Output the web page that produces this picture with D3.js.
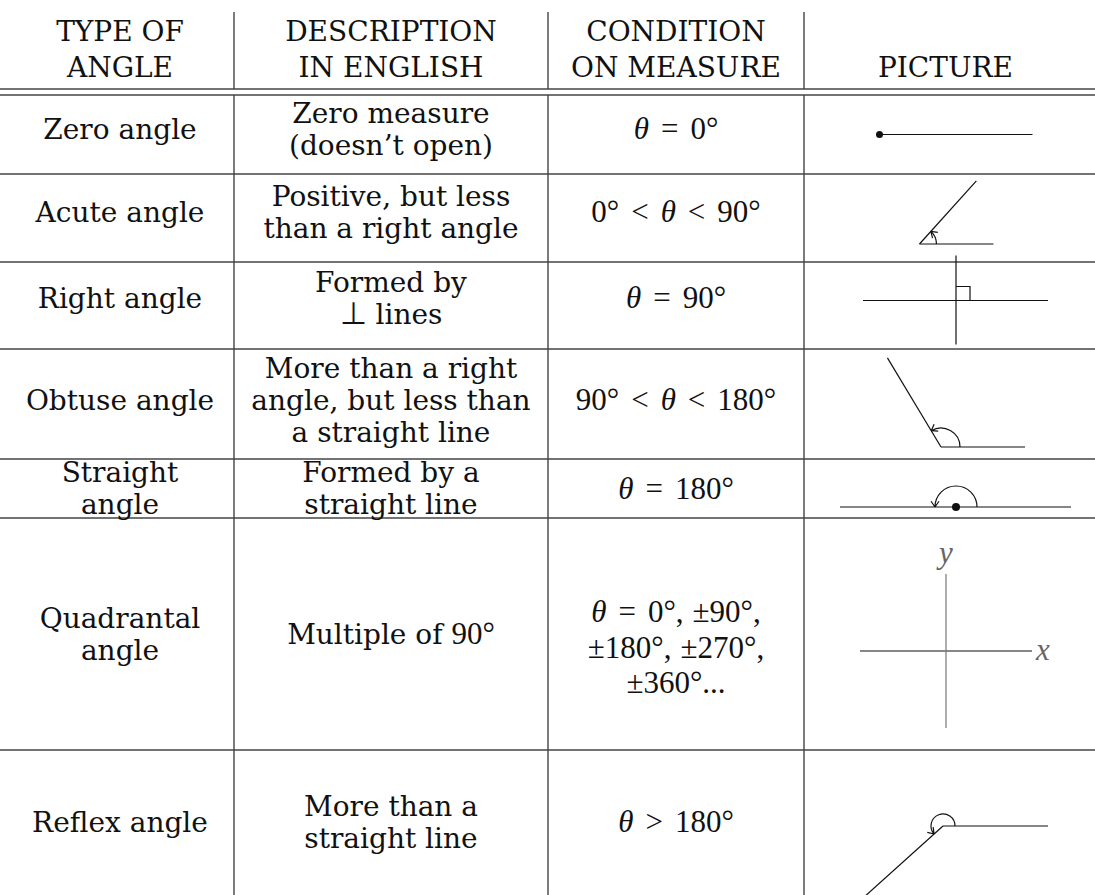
<!DOCTYPE html>
<html>
<head>
<meta charset="utf-8">
<title>Types of Angles</title>
<style>
  body { margin: 0; background: #fff; }
  svg { display: block; }
  text { fill: #111; white-space: pre; }
  .txt { font-family: "DejaVu Serif", serif; font-size: 28px; }
  .math { font-family: "Liberation Serif", serif; font-size: 31px; }
  .rule { stroke: #444; stroke-width: 1.4; }
  .fig { stroke: #111; stroke-width: 1.2; fill: none; }
</style>
</head>
<body>
<div id="viz"></div>
<script src="https://cdn.jsdelivr.net/npm/d3@7/dist/d3.min.js"></script>
<script>
// table content
const headers = [["TYPE OF", "ANGLE"], ["DESCRIPTION", "IN ENGLISH"], ["CONDITION", "ON MEASURE"], ["PICTURE"]];
const types = [["Zero angle"], ["Acute angle"], ["Right angle"], ["Obtuse angle"], ["Straight", "angle"], ["Quadrantal", "angle"], ["Reflex angle"]];
const descriptions = [
  ["Zero measure", "(doesn\u2019t open)"],
  ["Positive, but less", "than a right angle"],
  ["Formed by", "$\u22a5$ lines"],
  ["More than a right", "angle, but less than", "a straight line"],
  ["Formed by a", "straight line"],
  ["Multiple of $90\u00b0$"],
  ["More than a", "straight line"]
];
const conditions = [
  ["\u03b8 = 0\u00b0"],
  ["0\u00b0 < \u03b8 < 90\u00b0"],
  ["\u03b8 = 90\u00b0"],
  ["90\u00b0 < \u03b8 < 180\u00b0"],
  ["\u03b8 = 180\u00b0"],
  ["\u03b8 = 0\u00b0, \u00b190\u00b0,", "\u00b1180\u00b0, \u00b1270\u00b0,", "\u00b1360\u00b0..."],
  ["\u03b8 > 180\u00b0"]
];
const pictureKinds = ["zero", "acute", "right", "obtuse", "straight", "quadrantal", "reflex"];
const pictureAngles = [0, 48, 90, 121, 180, 90, 222];
const axisLabels = ["x", "y"];

// layout
const width = 1095, height = 895;
const colEdges = [0, 234, 548, 804, 1095];
const colNudge = [3, 0, 0, -4];
const headerTop = 12, ruleA = 89, ruleB = 95;
const rowHeights = [79, 88, 87, 110, 59, 232, 145];
const lineGap = 32, headLineGap = 36.5, mathLineGap = 35.5;
const relGap = 12, punctGap = 9;
const textShift = [-5, -6, -7, -3.5, -0.5, 0, 0];
const condShift = [-6, -7, -8, -4.5, 0, 13, -1];
const picLayout = [
  {dx: -70, dy: 0, base: 153, dot: 3.5},
  {dx: -30, dy: 26, base: 74, ray: 85, r: 17},
  {dx: 6.5, dy: -5, left: 93, base: 92, up: 45, down: 44, sq: 14},
  {dx: -8.5, dy: 43, base: 84, ray: 104, r: 19},
  {dx: 6.5, dy: 18.5, left: 116, base: 115, r: 21, dot: 4},
  {dx: -3.5, dy: 17, left: 86, base: 86, up: 77, down: 77},
  {dx: -6.5, dy: 3.5, base: 105, ray: 130, r: 12}
];

const rowTops = [ruleB].concat(Array.from(d3.cumsum(rowHeights), d => ruleB + d));
const colCenter = d3.scaleOrdinal().domain([0, 1, 2, 3])
    .range(d3.range(4).map(i => (colEdges[i] + colEdges[i + 1]) / 2));
const rad = d3.scaleLinear().domain([0, 180]).range([0, Math.PI]);

const svg = d3.select("#viz").append("svg")
    .attr("width", width)
    .attr("height", height);

// rules
svg.selectAll(".hrule")
    .data([ruleA, ruleB].concat(rowTops.slice(1, -1)))
  .enter().append("line")
    .attr("class", "rule")
    .attr("x1", 0).attr("x2", width)
    .attr("y1", d => d).attr("y2", d => d);

colEdges.slice(1, -1).forEach(x => {
  svg.append("line").attr("class", "rule")
      .attr("x1", x).attr("x2", x).attr("y1", headerTop).attr("y2", ruleA);
  svg.append("line").attr("class", "rule")
      .attr("x1", x).attr("x2", x).attr("y1", ruleB).attr("y2", height);
});

// math run: italic theta, wider gaps round relations, small gap after commas
function mathTspans(t, str) {
  let pending = 0;
  str.split(/(\u03b8| [=<>] |, )/).forEach(s => {
    if (!s) return;
    let txt = s, dx = pending, after = 0;
    if (/^ [=<>] $/.test(s)) { txt = s.trim(); dx += relGap; after = relGap; }
    else if (s === ", ") { txt = ","; after = punctGap; }
    t.append("tspan")
        .attr("class", "math")
        .attr("dx", dx || null)
        .style("font-style", s === "\u03b8" ? "italic" : "normal")
        .text(txt);
    pending = after;
  });
}

function richText(x, y, str, isMath) {
  const t = svg.append("text")
      .attr("x", x).attr("y", y).attr("dy", "0.35em")
      .attr("text-anchor", "middle")
      .attr("class", isMath ? "math" : "txt");
  const parts = isMath ? ["", str] : str.split("$");
  parts.forEach((seg, i) => {
    if (!seg) return;
    if (i % 2 === 0) t.append("tspan").text(seg);
    else mathTspans(t, seg);
  });
}

// header
headers.forEach((lines, c) => {
  lines.forEach((s, i) => {
    const y = 67.5 - (lines.length - 1 - i) * headLineGap;
    richText(colCenter(c) + colNudge[c], y, s, false);
  });
});

// body cells
types.forEach((_, r) => {
  const cy = (rowTops[r] + rowTops[r + 1]) / 2;
  [types[r], descriptions[r]].forEach((lines, c) => {
    lines.forEach((s, i) => {
      richText(colCenter(c) + colNudge[c], cy + textShift[r] + (i - (lines.length - 1) / 2) * lineGap, s, false);
    });
  });
  conditions[r].forEach((s, i) => {
    richText(colCenter(2), cy + condShift[r] + (i - (conditions[r].length - 1) / 2) * mathLineGap, s, true);
  });
  drawPicture(r, colCenter(3), cy);
});

function pt(vx, vy, a, len) {
  return [vx + len * Math.cos(rad(a)), vy - len * Math.sin(rad(a))];
}

function seg(g, a, b, colour) {
  g.append("line").attr("class", "fig")
      .style("stroke", colour || null)
      .attr("x1", a[0]).attr("y1", a[1]).attr("x2", b[0]).attr("y2", b[1]);
}

function arcArrow(g, vx, vy, r, a) {
  const t = rad(a);
  const p = d3.path();
  p.arc(vx, vy, r, 0, -t, true);
  const tip = pt(vx, vy, a, r);
  const bx = Math.sin(t), by = Math.cos(t);
  [-0.6, 0.6].forEach(s => {
    const ux = bx * Math.cos(s) - by * Math.sin(s),
          uy = bx * Math.sin(s) + by * Math.cos(s);
    p.moveTo(tip[0] + 7 * ux, tip[1] + 7 * uy);
    p.lineTo(tip[0], tip[1]);
  });
  g.append("path").attr("class", "fig").attr("d", p.toString());
}

function drawPicture(r, cx, cy) {
  const L = picLayout[r], a = pictureAngles[r], kind = pictureKinds[r];
  const vx = cx + L.dx, vy = cy + L.dy;
  const g = svg.append("g").attr("class", "pic-" + kind);
  seg(g, [vx - (L.left || 0), vy], [vx + L.base, vy], null);
  if (L.ray) seg(g, [vx, vy], pt(vx, vy, a, L.ray), null);
  if (L.up) {
    seg(g, pt(vx, vy, a, L.up), pt(vx, vy, a, -L.down), kind === "quadrantal" ? "#777" : null);
  }
  if (L.sq) {
    const s = L.sq;
    g.append("path").attr("class", "fig")
        .attr("d", "M" + vx + "," + (vy - s) + "H" + (vx + s) + "V" + vy);
  }
  if (L.r) arcArrow(g, vx, vy, L.r, a);
  if (L.dot) g.append("circle").attr("cx", vx).attr("cy", vy).attr("r", L.dot).attr("fill", "#111");
  if (kind === "quadrantal") {
    g.selectAll("text").data(axisLabels).enter().append("text")
        .attr("class", "math")
        .style("font-style", "italic")
        .style("fill", "#666")
        .attr("text-anchor", "middle")
        .attr("x", d => d === "x" ? vx + L.base + 11 : vx)
        .attr("y", d => d === "x" ? vy + 9 : vy - L.up - 11)
        .text(d => d);
  }
}
</script>
</body>
</html>
